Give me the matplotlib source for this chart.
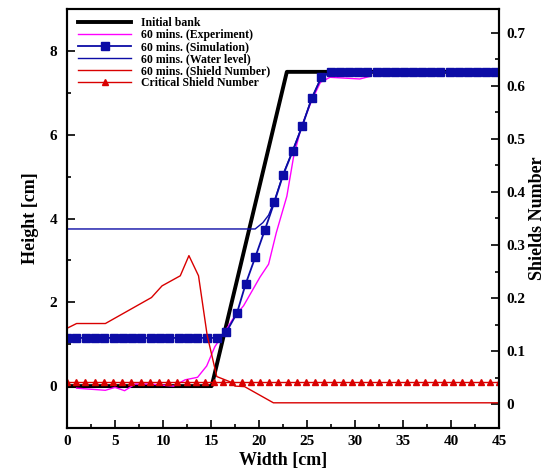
import matplotlib
matplotlib.use("Agg")
import matplotlib.pyplot as plt
from matplotlib.lines import Line2D
from matplotlib.ticker import MultipleLocator

plt.rcParams['font.family'] = ['Liberation Serif', 'DejaVu Serif']
plt.rcParams['font.weight'] = 'bold'

# initial bank profile
bank_x = [0, 15.07, 22.9, 45]
bank_y = [0, 0, 7.5, 7.5]

# measured bank after 60 min
exp_x = [1.0, 4.0, 5.0, 6.0, 7.1, 8.6, 11.1, 12.3, 13.6, 14.55, 15.4, 16.3, 17.3,
         18.4, 19.2, 20.1, 21.0, 21.8, 22.9, 23.6, 24.4, 25.5, 26.4, 27.4, 30.5, 31.7]
exp_y = [-0.05, -0.1, -0.03, -0.11, 0.05, 0.05, 0.0, 0.15, 0.21, 0.48, 0.94, 1.25, 1.61,
         1.92, 2.24, 2.6, 2.91, 3.66, 4.53, 5.47, 6.18, 6.82, 7.25, 7.37, 7.33, 7.4]

# simulated bank after 60 min
sim_x = [0.0, 0.97, 1.94, 2.91, 3.88, 4.85, 5.82, 6.79, 7.76, 8.73, 9.7, 10.67,
         11.64, 12.61, 13.58, 14.55, 15.6,
         16.6, 17.7, 18.6, 19.6, 20.6, 21.6, 22.5, 23.5, 24.5, 25.5, 26.5, 27.5,
         28.45, 29.4, 30.35, 31.3, 32.25, 33.2, 34.15, 35.1, 36.05, 37.0, 37.95,
         38.9, 39.85, 40.8, 41.75, 42.7, 43.65, 44.6]
sim_y = [1.15] * 17 + [1.29, 1.74, 2.43, 3.07, 3.72, 4.39, 5.03, 5.6, 6.2, 6.87,
                       7.37, 7.49] + [7.5] * 18

# water surface
water_x = [0, 19.6, 20.4, 21.0, 21.6, 22.5, 23.5, 24.5, 25.5, 26.5, 27.5, 45]
water_y = [3.75, 3.75, 3.9, 4.08, 4.42, 5.05, 5.62, 6.22, 6.88, 7.38, 7.5, 7.5]

# Shields number along the bank (right axis)
shield_x = [0, 1.0, 4.0, 8.8, 9.9, 11.8, 12.7, 13.7, 14.6, 15.6, 17.0, 17.5, 18.5, 21.5, 45]
shield_y = [0.143, 0.152, 0.152, 0.201, 0.223, 0.242, 0.28, 0.242, 0.13, 0.052,
            0.042, 0.034, 0.033, 0.0025, 0.0025]

# critical Shields number
crit_x = [0.0, 0.96, 1.91, 2.87, 3.83, 4.79, 5.74, 6.7, 7.66, 8.62, 9.57, 10.53,
          11.49, 12.45, 13.4, 14.36, 15.32, 16.28, 17.23, 18.19, 19.15, 20.11,
          21.06, 22.02, 22.98, 23.94, 24.89, 25.85, 26.81, 27.77, 28.72, 29.68,
          30.64, 31.6, 32.55, 33.51, 34.47, 35.43, 36.38, 37.34, 38.3, 39.26,
          40.21, 41.17, 42.13, 43.09, 44.04, 45.0]
crit_y = [0.042] * len(crit_x)

BLUE = '#0c0ca6'
RED = '#d90000'

fig = plt.figure(figsize=(5.47, 4.75), dpi=100)
ax = fig.add_axes([67 / 547, 47 / 475, 432 / 547, 419 / 475])
ax2 = ax.twinx()

ax.plot(bank_x, bank_y, color='black', lw=2.8, zorder=2)
ax.plot(exp_x, exp_y, color='#ff00ff', lw=1.0, zorder=3)
ax.plot(water_x, water_y, color=BLUE, lw=1.0, zorder=3)
ax.plot(sim_x, sim_y, color=BLUE, lw=1.3, marker='s', ms=5.5, mfc=BLUE, mec=BLUE, zorder=4)

ax2.plot(shield_x, shield_y, color=RED, lw=1.0)
ax2.plot(crit_x, crit_y, color=RED, lw=1.0, marker='^', ms=5, mfc=RED, mec=RED)

ax.set_xlim(0, 45)
ax.set_ylim(-1, 9)
ax2.set_ylim(-0.045, 0.745)

ax.xaxis.set_major_locator(MultipleLocator(5))
ax.xaxis.set_minor_locator(MultipleLocator(2.5))
ax.yaxis.set_major_locator(MultipleLocator(2))
ax.yaxis.set_minor_locator(MultipleLocator(1))
ax2.yaxis.set_minor_locator(MultipleLocator(0.05))
ax2.set_yticks([0, 0.1, 0.2, 0.3, 0.4, 0.5, 0.6, 0.7])
ax2.set_yticklabels(['0', '0.1', '0.2', '0.3', '0.4', '0.5', '0.6', '0.7'])

ax.tick_params(axis='both', which='both', direction='in', top=False, right=False,
               labelsize=11, width=1.2)
ax.tick_params(axis='both', which='major', length=6)
ax.tick_params(axis='both', which='minor', length=3)
ax.tick_params(axis='y', pad=7)
ax.tick_params(axis='x', pad=5)
ax2.tick_params(axis='y', which='both', direction='in', labelsize=11, width=1.2, pad=5)
ax2.tick_params(axis='y', which='major', length=6)
ax2.tick_params(axis='y', which='minor', length=3)

for a in (ax, ax2):
    for s in a.spines.values():
        s.set_linewidth(1.5)

ax.set_xlabel('Width [cm]', fontsize=13, fontweight='bold', labelpad=3)
ax.set_ylabel('Height [cm]', fontsize=13, fontweight='bold', labelpad=8)
ax2.set_ylabel('Shields Number', fontsize=13, fontweight='bold', labelpad=3)

handles = [
    Line2D([], [], color='black', lw=2.8),
    Line2D([], [], color='#ff00ff', lw=1.0),
    Line2D([], [], color=BLUE, lw=1.3, marker='s', ms=5.5),
    Line2D([], [], color=BLUE, lw=1.0),
    Line2D([], [], color=RED, lw=1.0),
    Line2D([], [], color=RED, lw=1.0, marker='^', ms=5),
]
labels = ['Initial bank', '60 mins. (Experiment)', '60 mins. (Simulation)',
          '60 mins. (Water level)', '60 mins. (Shield Number)', 'Critical Shield Number']
ax2.legend(handles, labels, loc='upper left', bbox_to_anchor=(0.0255, 0.98),
           frameon=False, fontsize=8.5, labelspacing=0.0, handlelength=4.5,
           handletextpad=0.85, borderpad=0, borderaxespad=0)

fig.savefig('out.png', dpi=100)
